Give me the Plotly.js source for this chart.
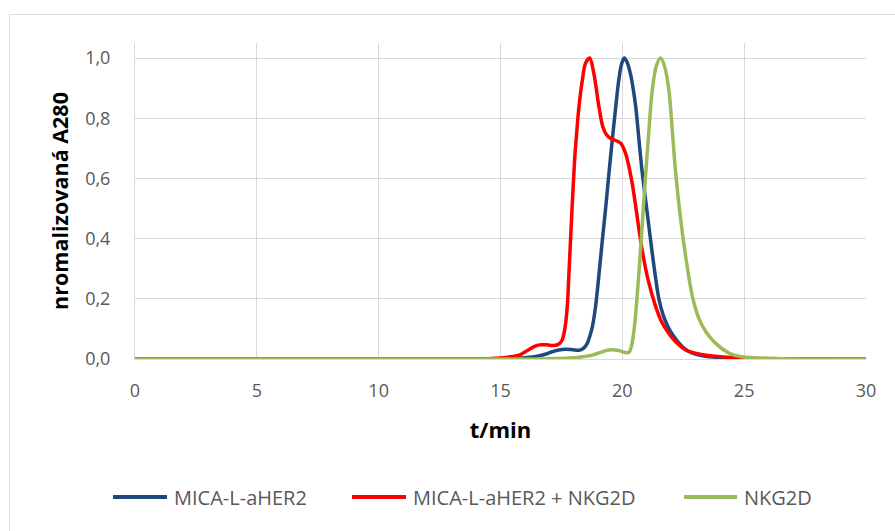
<!DOCTYPE html>
<html>
<head>
<meta charset="utf-8">
<script src="https://cdn.plot.ly/plotly-3.0.1.min.js"></script>
<style>
html,body{margin:0;padding:0;background:#fff;}
#chart{width:895px;height:531px;}
</style>
</head>
<body>
<div id="chart"></div>
<script>
// ---- data ----
var seriesNames = ["MICA-L-aHER2", "MICA-L-aHER2 + NKG2D", "NKG2D"];

var blueT = [0, 14, 15, 15.8, 16.44, 16.8, 17.12, 17.4, 17.67, 17.95, 18.22, 18.4, 18.56, 18.68, 18.77, 18.9, 19.04, 19.18, 19.32, 19.45, 19.59, 19.73, 19.86, 19.97, 20.08, 20.2, 20.34, 20.45, 20.55, 20.68, 20.82, 21.0, 21.16, 21.33, 21.5, 21.68, 21.87, 22.05, 22.3, 22.5, 22.73, 23.0, 23.4, 24, 25, 26, 30];
var blueV = [0, 0, 0.001, 0.003, 0.008, 0.015, 0.024, 0.03, 0.032, 0.031, 0.029, 0.035, 0.052, 0.08, 0.107, 0.174, 0.28, 0.395, 0.505, 0.617, 0.73, 0.838, 0.93, 0.98, 1.0, 0.985, 0.945, 0.895, 0.838, 0.73, 0.617, 0.5, 0.395, 0.29, 0.2, 0.145, 0.108, 0.082, 0.055, 0.038, 0.025, 0.016, 0.009, 0.005, 0.002, 0.001, 0];

var redT = [0, 13, 14.5, 15, 15.5, 15.8, 16.1, 16.4, 16.6, 16.9, 17.2, 17.4, 17.53, 17.64, 17.74, 17.81, 17.94, 18.04, 18.11, 18.22, 18.36, 18.49, 18.66, 18.83, 19.04, 19.2, 19.35, 19.52, 19.72, 19.93, 20.13, 20.38, 20.55, 20.79, 21.06, 21.37, 21.62, 21.91, 22.25, 22.6, 22.9, 23.3, 23.8, 24.5, 25.5, 27, 30];
var redV = [0, 0, 0.001, 0.003, 0.008, 0.014, 0.028, 0.042, 0.047, 0.047, 0.045, 0.05, 0.063, 0.1, 0.174, 0.286, 0.506, 0.66, 0.735, 0.838, 0.927, 0.983, 1.0, 0.949, 0.838, 0.772, 0.745, 0.733, 0.726, 0.717, 0.684, 0.595, 0.506, 0.373, 0.262, 0.174, 0.122, 0.085, 0.052, 0.03, 0.021, 0.014, 0.009, 0.005, 0.002, 0.001, 0];

var greenT = [0, 16, 17, 17.81, 18.3, 18.77, 19.1, 19.45, 19.86, 20.1, 20.27, 20.38, 20.48, 20.58, 20.68, 20.82, 20.96, 21.1, 21.23, 21.4, 21.57, 21.74, 21.91, 22.05, 22.19, 22.4, 22.6, 22.87, 23.14, 23.45, 23.83, 24.37, 24.78, 25.5, 26.5, 30];
var greenV = [0, 0, 0.001, 0.003, 0.007, 0.013, 0.022, 0.03, 0.028, 0.022, 0.022, 0.045, 0.096, 0.18, 0.285, 0.45, 0.617, 0.77, 0.894, 0.975, 1.0, 0.97, 0.894, 0.76, 0.617, 0.46, 0.34, 0.21, 0.135, 0.088, 0.052, 0.02, 0.009, 0.003, 0.001, 0];

var xTickVals = [0, 5, 10, 15, 20, 25, 30];
var xTickText = ["0", "5", "10", "15", "20", "25", "30"];
var yTickVals = [0, 0.2, 0.4, 0.6, 0.8, 1.0];
var yTickText = ["0,0", "0,2", "0,4", "0,6", "0,8", "1,0"];

// ---- styles ----
var colors = ["#1F497D", "#FF0000", "#9BBB59"];
var FONT = "'Open Sans', sans-serif";

// plot-area geometry in pixels
var L = 135, R = 866, T = 43, B = 359;
function px2x(px){ return (px - L) / (R - L); }
function px2y(py){ return (B - py) / (B - T); }

var xs = [blueT, redT, greenT];
var ys = [blueV, redV, greenV];
var traces = [];
for (var i = 0; i < 3; i++) {
  traces.push({
    x: xs[i], y: ys[i], name: seriesNames[i], type: "scatter", mode: "lines",
    line: {color: colors[i], width: 3.5, shape: "spline", smoothing: 1.0},
    hoverinfo: "x+y+name", showlegend: false
  });
}

// custom legend (long line samples as in the reference)
var legPos = [[113, 167, 172], [352, 406, 411], [684, 737, 742]];
var legY = 497;
var shapes = [
  {type: "rect", xref: "paper", yref: "paper", x0: px2x(9.5), x1: px2x(905), y0: px2y(14.5), y1: px2y(560),
   line: {color: "#D9D9D9", width: 1}, layer: "below"}
];
var annotations = [];
for (var j = 0; j < 3; j++) {
  shapes.push({type: "line", xref: "paper", yref: "paper",
    x0: px2x(legPos[j][0]), x1: px2x(legPos[j][1]), y0: px2y(legY), y1: px2y(legY),
    line: {color: colors[j], width: 4}});
  annotations.push({xref: "paper", yref: "paper", x: px2x(legPos[j][2]), y: px2y(legY),
    xanchor: "left", yanchor: "middle", showarrow: false, text: seriesNames[j],
    font: {family: FONT, size: 20, color: "#595959"}});
}

var layout = {
  width: 895, height: 531,
  margin: {l: L, r: 895 - R, t: T, b: 531 - B, pad: 0},
  paper_bgcolor: "#FFFFFF", plot_bgcolor: "#FFFFFF",
  font: {family: FONT, color: "#595959"},
  xaxis: {
    range: [0, 30], tickvals: xTickVals, ticktext: xTickText,
    showgrid: true, gridcolor: "#D9D9D9", gridwidth: 1,
    showline: true, linecolor: "#D9D9D9", linewidth: 1,
    zeroline: false, ticks: "", ticklabelstandoff: 15,
    tickfont: {family: FONT, size: 18, color: "#595959"},
    title: {text: "<b>t/min</b>", font: {family: FONT, size: 22, color: "#000000"}, standoff: 22},
    automargin: false, fixedrange: true
  },
  yaxis: {
    range: [0, 1.05], tickvals: yTickVals, ticktext: yTickText,
    showgrid: true, gridcolor: "#D9D9D9", gridwidth: 1,
    showline: true, linecolor: "#D9D9D9", linewidth: 1,
    zeroline: false, ticks: "", ticklabelstandoff: 20,
    tickfont: {family: FONT, size: 18, color: "#595959"},
    title: {text: "<b>nromalizovaná A280</b>", font: {family: FONT, size: 21.5, color: "#000000"}, standoff: 10},
    automargin: false, fixedrange: true
  },
  shapes: shapes,
  annotations: annotations,
  showlegend: false
};

Plotly.newPlot("chart", traces, layout, {displayModeBar: false, staticPlot: false});
</script>
</body>
</html>
